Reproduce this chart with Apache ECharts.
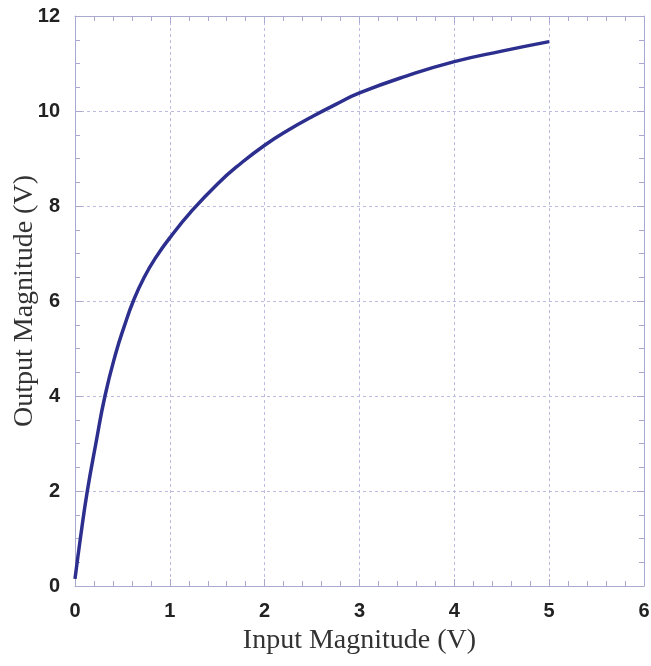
<!DOCTYPE html>
<html>
<head>
<meta charset="utf-8">
<script src="https://cdn.jsdelivr.net/npm/echarts@6/dist/echarts.min.js"></script>
<style>
html,body{margin:0;padding:0;background:#fff;}
#chart{width:651px;height:666px;}
</style>
</head>
<body>
<div id="chart"></div>
<script>
// Data
const inputV  = [0, 0.06, 0.13, 0.22, 0.316, 0.43, 0.52, 0.615, 0.73, 0.86, 1.0, 1.22, 1.5, 1.75, 2.0, 2.25, 2.5, 2.75, 3.0, 3.5, 4.0, 4.5, 5.0];
const outputV = [0.15, 1.05, 2.0, 3.0, 4.0, 4.9, 5.47, 6.0, 6.5, 6.94, 7.33, 7.87, 8.46, 8.9, 9.28, 9.6, 9.88, 10.14, 10.38, 10.74, 11.04, 11.26, 11.46];
const xTicks = [0, 1, 2, 3, 4, 5, 6];
const yTicks = [0, 2, 4, 6, 8, 10, 12];
const xTitle = 'Input Magnitude (V)';
const yTitle = 'Output Magnitude (V)';

const points = inputV.map((x, i) => [x, outputV[i]]);
const axisColor = '#a9a9cf';
const gridColor = '#bcbce0';
const labelStyle = {color: '#222', fontFamily: 'Liberation Sans', fontWeight: 'bold', fontSize: 20};

const chart = echarts.init(document.getElementById('chart'));
chart.setOption({
  animation: false,
  backgroundColor: '#fff',
  grid: {left: 75, right: 7, top: 16, bottom: 80, containLabel: false, outerBoundsMode: 'none'},
  xAxis: [{
    type: 'value', min: xTicks[0], max: xTicks[xTicks.length - 1], interval: 1,
    name: xTitle, nameLocation: 'middle', nameGap: 41, nameMoveOverlap: false,
    nameTextStyle: {fontFamily: 'Liberation Serif', fontSize: 28, color: '#333', verticalAlign: 'top'},
    axisLine: {show: true, lineStyle: {color: axisColor, width: 1}},
    axisTick: {show: true, inside: true, length: 7, lineStyle: {color: axisColor}},
    minorTick: {show: true, splitNumber: 5, length: 5, lineStyle: {color: axisColor}},
    axisLabel: Object.assign({margin: 15}, labelStyle),
    splitLine: {show: true, lineStyle: {color: gridColor, type: [3, 3], width: 1}}
  }, {
    type: 'value', position: 'top', min: xTicks[0], max: xTicks[xTicks.length - 1], interval: 1,
    axisLine: {show: true, onZero: false, lineStyle: {color: axisColor, width: 1}},
    axisTick: {show: true, inside: true, length: 7, lineStyle: {color: axisColor}},
    minorTick: {show: true, splitNumber: 5, length: 5, lineStyle: {color: axisColor}},
    axisLabel: {show: false}, splitLine: {show: false}
  }],
  yAxis: [{
    type: 'value', min: yTicks[0], max: yTicks[yTicks.length - 1], interval: 2,
    name: yTitle, nameLocation: 'middle', nameGap: 36, nameRotate: 90, nameMoveOverlap: false,
    nameTextStyle: {fontFamily: 'Liberation Serif', fontSize: 28, color: '#333'},
    axisLine: {show: true, lineStyle: {color: axisColor, width: 1}},
    axisTick: {show: true, inside: true, length: 7, lineStyle: {color: axisColor}},
    minorTick: {show: true, splitNumber: 4, length: 5, lineStyle: {color: axisColor}},
    axisLabel: Object.assign({margin: 15}, labelStyle),
    splitLine: {show: true, lineStyle: {color: gridColor, type: [3, 3], width: 1}}
  }, {
    type: 'value', position: 'right', min: yTicks[0], max: yTicks[yTicks.length - 1], interval: 2,
    axisLine: {show: true, onZero: false, lineStyle: {color: axisColor, width: 1}},
    axisTick: {show: true, inside: true, length: 7, lineStyle: {color: axisColor}},
    minorTick: {show: true, splitNumber: 4, length: 5, lineStyle: {color: axisColor}},
    axisLabel: {show: false}, splitLine: {show: false}
  }],
  series: [{
    type: 'line', data: points, smooth: 0.5, showSymbol: false,
    lineStyle: {color: '#2d2f8e', width: 3.5},
    xAxisIndex: 0, yAxisIndex: 0
  }]
});
</script>
</body>
</html>
